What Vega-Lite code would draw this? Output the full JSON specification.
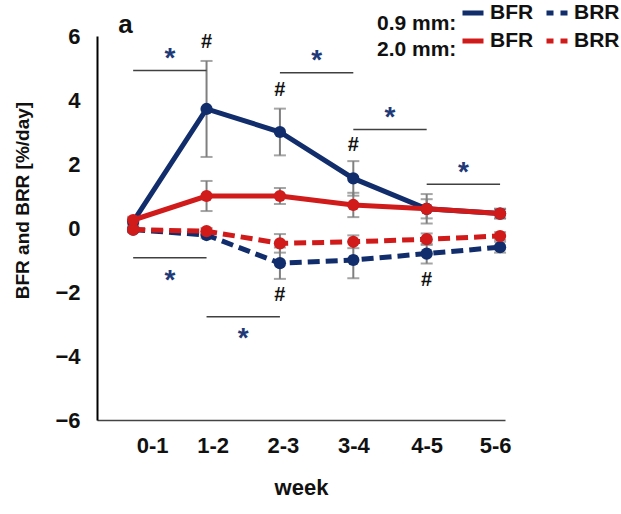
{
  "$schema": "https://vega.github.io/schema/vega-lite/v6.json",
  "width": 408,
  "height": 384,
  "autosize": "none",
  "padding": {"left": 97, "top": 36, "right": 116, "bottom": 94},
  "background": "white",
  "config": {
    "view": {"stroke": null},
    "font": "Liberation Sans",
    "text": {"font": "Liberation Sans"}
  },
  "datasets": {
    "rates": [
      {"series": "0.9 BRR", "week": "0-1", "value": -0.05, "err": 0.08},
      {"series": "0.9 BRR", "week": "1-2", "value": -0.22, "err": 0.1},
      {"series": "0.9 BRR", "week": "2-3", "value": -1.1, "err": 0.49},
      {"series": "0.9 BRR", "week": "3-4", "value": -1.0, "err": 0.57},
      {"series": "0.9 BRR", "week": "4-5", "value": -0.8, "err": 0.31},
      {"series": "0.9 BRR", "week": "5-6", "value": -0.6, "err": 0.17},
      {"series": "0.9 BFR", "week": "0-1", "value": 0.2, "err": 0.1},
      {"series": "0.9 BFR", "week": "1-2", "value": 3.72, "err": 1.5},
      {"series": "0.9 BFR", "week": "2-3", "value": 3.0, "err": 0.73},
      {"series": "0.9 BFR", "week": "3-4", "value": 1.55, "err": 0.54},
      {"series": "0.9 BFR", "week": "4-5", "value": 0.6, "err": 0.46},
      {"series": "0.9 BFR", "week": "5-6", "value": 0.45, "err": 0.15},
      {"series": "2.0 BRR", "week": "0-1", "value": -0.05, "err": 0.08},
      {"series": "2.0 BRR", "week": "1-2", "value": -0.1, "err": 0.1},
      {"series": "2.0 BRR", "week": "2-3", "value": -0.48, "err": 0.29},
      {"series": "2.0 BRR", "week": "3-4", "value": -0.43, "err": 0.2},
      {"series": "2.0 BRR", "week": "4-5", "value": -0.35, "err": 0.18},
      {"series": "2.0 BRR", "week": "5-6", "value": -0.25, "err": 0.12},
      {"series": "2.0 BFR", "week": "0-1", "value": 0.25, "err": 0.1},
      {"series": "2.0 BFR", "week": "1-2", "value": 1.0, "err": 0.47},
      {"series": "2.0 BFR", "week": "2-3", "value": 1.0, "err": 0.25},
      {"series": "2.0 BFR", "week": "3-4", "value": 0.72, "err": 0.38},
      {"series": "2.0 BFR", "week": "4-5", "value": 0.6, "err": 0.3},
      {"series": "2.0 BFR", "week": "5-6", "value": 0.45, "err": 0.15}
    ],
    "brackets": [
      {"from": "0-1", "to": "1-2", "y": 4.92},
      {"from": "2-3", "to": "3-4", "y": 4.85},
      {"from": "3-4", "to": "4-5", "y": 3.08},
      {"from": "4-5", "to": "5-6", "y": 1.37},
      {"from": "0-1", "to": "1-2", "y": -0.93},
      {"from": "1-2", "to": "2-3", "y": -2.77}
    ],
    "stars": [
      {"week": "0-1", "y": 5.46},
      {"week": "2-3", "y": 5.41},
      {"week": "3-4", "y": 3.63},
      {"week": "4-5", "y": 1.92},
      {"week": "0-1", "y": -1.47},
      {"week": "1-2", "y": -3.29}
    ],
    "hashes": [
      {"week": "1-2", "y": 5.82},
      {"week": "2-3", "y": 4.31},
      {"week": "3-4", "y": 2.59},
      {"week": "2-3", "y": -2.09},
      {"week": "4-5", "y": -1.63}
    ],
    "panel": [
      {"week": "0-1", "y": 6, "text": "a"}
    ]
  },
  "encoding": {
    "x": {
      "field": "week",
      "type": "ordinal",
      "scale": {
        "type": "point",
        "domain": ["0-1", "1-2", "2-3", "3-4", "4-5", "5-6"],
        "padding": 0.28,
        "align": 0.88
      },
      "axis": {
        "title": "week",
        "titleFont": "Liberation Sans",
        "titleFontSize": 22,
        "titleFontWeight": "bold",
        "titleColor": "#111111",
        "titlePadding": 21,
        "labelAngle": 0,
        "labelFont": "Liberation Sans",
        "labelFontSize": 22,
        "labelFontWeight": "bold",
        "labelColor": "#111111",
        "labelPadding": 15,
        "labelOffset": {
          "condition": [
            {"test": "datum.value == '0-1'", "value": 19},
            {"test": "datum.value == '1-2'", "value": 6},
            {"test": "datum.value == '2-3'", "value": 3},
            {"test": "datum.value == '5-6'", "value": -5}
          ],
          "value": 0
        },
        "ticks": false,
        "tickSize": 0,
        "grid": false,
        "domainColor": "#444444",
        "domainWidth": 1.5
      }
    },
    "y": {
      "field": "value",
      "type": "quantitative",
      "scale": {"domain": [-6, 6], "nice": false},
      "axis": {
        "title": "BFR and BRR [%/day]",
        "titleFont": "Liberation Sans",
        "titleFontSize": 19,
        "titleFontWeight": "bold",
        "titleColor": "#111111",
        "titleX": -75,
        "titleY": 164,
        "titleBaseline": "middle",
        "values": [-6, -4, -2, 0, 2, 4, 6],
        "labelFont": "Liberation Sans",
        "labelFontSize": 22,
        "labelFontWeight": "bold",
        "labelColor": "#111111",
        "labelPadding": 17,
        "ticks": false,
        "tickSize": 0,
        "grid": false,
        "domainColor": "#000000",
        "domainWidth": 2
      }
    }
  },
  "layer": [
    {
      "data": {"name": "rates"},
      "mark": {"type": "errorbar", "ticks": true, "size": 12, "thickness": 2, "color": "#7f7f7f"},
      "encoding": {
        "yError": {"field": "err"},
        "detail": {"field": "series", "type": "nominal"}
      }
    },
    {
      "data": {"name": "rates"},
      "transform": [{"filter": "datum.series == '0.9 BRR'"}],
      "mark": {"type": "line", "strokeWidth": 5, "strokeDash": [12, 6]},
      "encoding": {
        "color": {
          "field": "series",
          "type": "nominal",
          "scale": {
            "domain": ["0.9 BFR", "0.9 BRR", "2.0 BFR", "2.0 BRR"],
            "range": ["#112d6b", "#112d6b", "#d11a1a", "#d11a1a"]
          },
          "legend": {
            "orient": "none",
            "legendX": 280,
            "legendY": -36,
            "direction": "horizontal",
            "columns": 2,
            "title": ["0.9 mm:", "2.0 mm:"],
            "titleOrient": "left",
            "titleFont": "Liberation Sans",
            "titleFontSize": 21,
            "titleFontWeight": "bold",
            "titleColor": "#111111",
            "titleLineHeight": 26,
            "titlePadding": 3,
            "titleBaseline": "top",
            "symbolType": "stroke",
            "symbolSize": 441,
            "symbolStrokeWidth": 5,
            "labelFont": "Liberation Sans",
            "labelFontSize": 21,
            "labelFontWeight": "bold",
            "labelColor": "#111111",
            "labelOffset": 4,
            "labelExpr": "split(datum.label, ' ')[1]",
            "columnPadding": 2,
            "rowPadding": 5,
            "encode": {
              "symbols": {
                "update": {
                  "strokeDash": {"signal": "indexof(datum.value, 'BRR') >= 0 ? [7, 7] : [1, 0]"}
                }
              }
            }
          }
        }
      }
    },
    {
      "data": {"name": "rates"},
      "transform": [{"filter": "datum.series == '0.9 BFR'"}],
      "mark": {"type": "line", "strokeWidth": 5},
      "encoding": {
        "color": {"field": "series", "type": "nominal", "legend": null}
      }
    },
    {
      "data": {"name": "rates"},
      "transform": [{"filter": "indexof(datum.series, '0.9') == 0"}],
      "mark": {"type": "point", "shape": "circle", "filled": true, "size": 150, "opacity": 1},
      "encoding": {
        "color": {"field": "series", "type": "nominal", "legend": null}
      }
    },
    {
      "data": {"name": "rates"},
      "transform": [{"filter": "datum.series == '2.0 BRR'"}],
      "mark": {"type": "line", "strokeWidth": 5, "strokeDash": [12, 6]},
      "encoding": {
        "color": {"field": "series", "type": "nominal", "legend": null}
      }
    },
    {
      "data": {"name": "rates"},
      "transform": [{"filter": "datum.series == '2.0 BFR'"}],
      "mark": {"type": "line", "strokeWidth": 5},
      "encoding": {
        "color": {"field": "series", "type": "nominal", "legend": null}
      }
    },
    {
      "data": {"name": "rates"},
      "transform": [{"filter": "indexof(datum.series, '2.0') == 0"}],
      "mark": {"type": "point", "shape": "circle", "filled": true, "size": 150, "opacity": 1},
      "encoding": {
        "color": {"field": "series", "type": "nominal", "legend": null}
      }
    },
    {
      "data": {"name": "brackets"},
      "mark": {"type": "rule", "color": "#404040", "strokeWidth": 1.5},
      "encoding": {
        "x": {"field": "from", "type": "ordinal"},
        "x2": {"field": "to"},
        "y": {"field": "y", "type": "quantitative"}
      }
    },
    {
      "data": {"name": "stars"},
      "mark": {"type": "text", "text": "*", "font": "Liberation Sans", "fontWeight": "bold", "fontSize": 28, "color": "#1f3a78", "baseline": "middle", "align": "center", "dx": 36.7, "dy": 6},
      "encoding": {
        "y": {"field": "y", "type": "quantitative"}
      }
    },
    {
      "data": {"name": "hashes"},
      "mark": {"type": "text", "text": "#", "font": "Liberation Sans", "fontWeight": "bold", "fontSize": 20, "color": "#111111", "baseline": "middle", "align": "center"},
      "encoding": {
        "y": {"field": "y", "type": "quantitative"}
      }
    },
    {
      "data": {"name": "panel"},
      "mark": {"type": "text", "font": "Liberation Sans", "fontWeight": "bold", "fontSize": 26, "color": "#111111", "baseline": "alphabetic", "align": "left", "dx": -15, "dy": -3},
      "encoding": {
        "y": {"field": "y", "type": "quantitative"},
        "text": {"field": "text"}
      }
    }
  ]
}
